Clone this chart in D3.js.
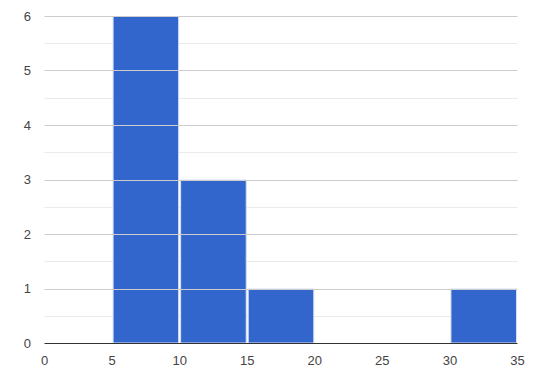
<!DOCTYPE html>
<html><head><meta charset="utf-8">
<script src="https://cdn.jsdelivr.net/npm/d3@7"></script>
<style>body{margin:0;background:#fff}svg{display:block}text{font-family:Arial,"Liberation Sans",sans-serif}</style>
</head><body><svg id="c" width="539" height="380"></svg>
<script>
const binStarts = [0, 5, 10, 15, 20, 25, 30];
const binWidth = 5;
const counts = [0, 6, 3, 1, 0, 0, 1];
const xTicks = [0, 5, 10, 15, 20, 25, 30, 35];
const yTicks = [0, 1, 2, 3, 4, 5, 6];
const yMinor = [0.5, 1.5, 2.5, 3.5, 4.5, 5.5];

const svg = d3.select("#c");
const x = d3.scaleLinear().domain([0, 35]).range([44.5, 517.5]);
const y = d3.scaleLinear().domain([0, 6]).range([343, 16]);

svg.append("g").selectAll("line").data(yMinor).join("line")
  .attr("x1", x(0)).attr("x2", x(35))
  .attr("y1", d => Math.round(y(d)) + 0.5).attr("y2", d => Math.round(y(d)) + 0.5)
  .attr("stroke", "#ebebeb");

const bars = binStarts.map((s, i) => ({s, c: counts[i]})).filter(d => d.c > 0);
svg.append("g").selectAll("rect").data(bars).join("rect")
  .attr("x", d => x(d.s) + 1)
  .attr("width", d => x(d.s + binWidth) - x(d.s) - 2)
  .attr("y", d => y(d.c) + 0.5)
  .attr("height", d => y(0) - y(d.c) - 0.5)
  .attr("fill", "#3366cc")
  .attr("stroke", "#d6e0f5").attr("stroke-width", 1);

svg.append("g").selectAll("line").data(yTicks.filter(d => d > 0)).join("line")
  .attr("x1", x(0)).attr("x2", x(35))
  .attr("y1", d => Math.round(y(d)) + 0.5).attr("y2", d => Math.round(y(d)) + 0.5)
  .attr("stroke", "#cccccc");

svg.append("line").attr("x1", x(0)).attr("x2", x(35))
  .attr("y1", y(0) + 0.5).attr("y2", y(0) + 0.5).attr("stroke", "#333").attr("stroke-width", 1);

svg.append("g").selectAll("text").data(yTicks).join("text")
  .attr("x", 31).attr("y", d => y(d) + 4.5).attr("text-anchor", "end")
  .attr("font-size", 13).attr("fill", "#444").text(d => d);

svg.append("g").selectAll("text").data(xTicks).join("text")
  .attr("x", d => x(d)).attr("y", 365).attr("text-anchor", "middle")
  .attr("font-size", 13).attr("fill", "#444").text(d => d);
</script></body></html>
